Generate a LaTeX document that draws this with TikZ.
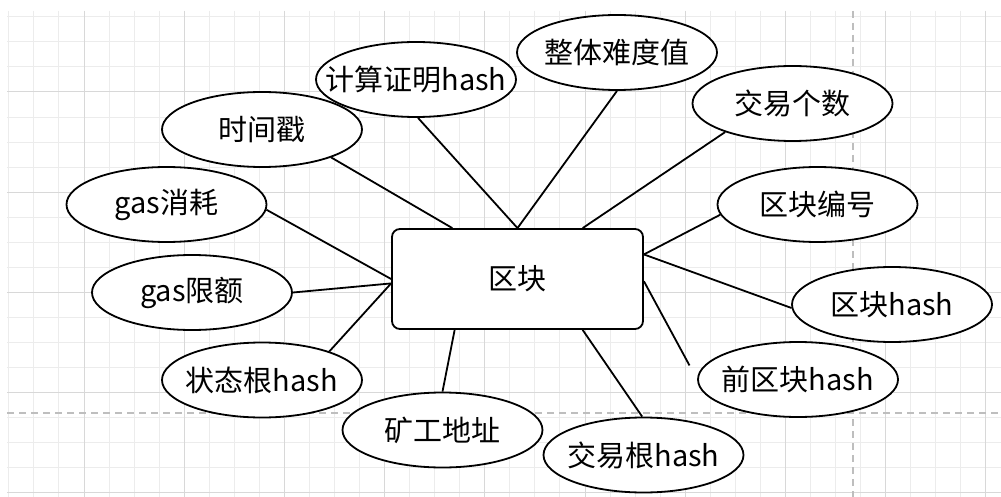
\documentclass[tikz,border=0pt]{standalone}
\usepackage{fontspec}
\setmainfont{Noto Sans CJK SC}
\usetikzlibrary{shapes.geometric}
\definecolor{gridminor}{RGB}{236,236,236}
\definecolor{gridmajor}{RGB}{216,216,216}
\definecolor{pagebreak}{RGB}{190,190,190}
\newcommand\ctext[1]{\makebox[0pt]{#1}}
\begin{document}
\begin{tikzpicture}[x=1pt,y=-1pt,
  attr/.style={ellipse, draw, line width=1.8pt, fill=white, minimum width=200pt, minimum height=75pt, inner sep=0pt, font=\fontsize{29}{34}\selectfont},
  ent/.style={rectangle, rounded corners=8pt, draw, line width=1.8pt, fill=white, minimum width=251pt, minimum height=100pt, inner sep=0pt, font=\fontsize{29}{34}\selectfont},
  conn/.style={line width=1.8pt},
  gminor/.style={gridminor, line width=1pt},
  gmajor/.style={gridmajor, line width=1pt},
  pbreak/.style={pagebreak, line width=1.5pt, dash pattern=on 7pt off 5pt}]
\fill[white] (0,0) rectangle (1001,497);
\useasboundingbox (0,0) rectangle (1001,497);
% grid
\foreach \k in {-3,...,36} \draw[gminor] ({84+25.05*\k},11) -- ({84+25.05*\k},497);
\foreach \k in {-3,...,16} \draw[gminor] (7,{92+25.05*\k}) -- (1001,{92+25.05*\k});
\foreach \k in {0,...,9} \draw[gmajor] ({84+100.2*\k},11) -- ({84+100.2*\k},497);
\foreach \k in {0,...,4} \draw[gmajor] (7,{92+100.2*\k}) -- (1001,{92+100.2*\k});
\draw[pbreak] (853,11) -- (853,497);
\draw[pbreak] (7,413) -- (1001,413);
% nodes
\node[ent] (blk) at (517.5,279) {区块};
\node[attr] (ts) at (262,129.5) {\ctext{时间戳}};
\node[attr] (cp) at (416,79.5) {\ctext{计算证明hash}};
\node[attr] (nd) at (617,52.5) {\ctext{整体难度值}};
\node[attr] (jy) at (792.5,103.5) {\ctext{交易个数}};
\node[attr] (bn) at (817.5,204.5) {\ctext{区块编号}};
\node[attr] (bh) at (892,304.5) {\ctext{区块hash}};
\node[attr] (pbh) at (798,379.5) {\ctext{前区块hash}};
\node[attr] (tr) at (643.5,455) {\ctext{交易根hash}};
\node[attr] (mw) at (442.5,430) {\ctext{矿工地址}};
\node[attr] (sr) at (262,380) {\ctext{状态根hash}};
\node[attr] (gl) at (192,292.5) {\ctext{gas限额}};
\node[attr] (gc) at (166.5,204.5) {\ctext{gas消耗}};
% connectors
\draw[conn] (ts.-22) -- (blk.142.2);
\draw[conn] (cp.-87) -- (blk.90);
\draw[conn] (nd.-90) -- (blk.90);
\draw[conn] (jy.-157.7) -- (blk.38.7);
\draw[conn] (bn.-174) -- (blk.11.5);
\draw[conn] (bh.-178) -- (blk.11.5);
\draw[conn, shorten >=16pt] (blk.-1.4) -- (pbh.west);
\draw[conn] (blk.-38.7) -- (tr.92);
\draw[conn] (blk.-141.3) -- (mw.90);
\draw[conn] (blk.-178.2) -- (sr.23);
\draw[conn] (blk.-178.2) -- (gl.0);
\draw[conn] (blk.180) -- (gc.-3);
\end{tikzpicture}
\end{document}
